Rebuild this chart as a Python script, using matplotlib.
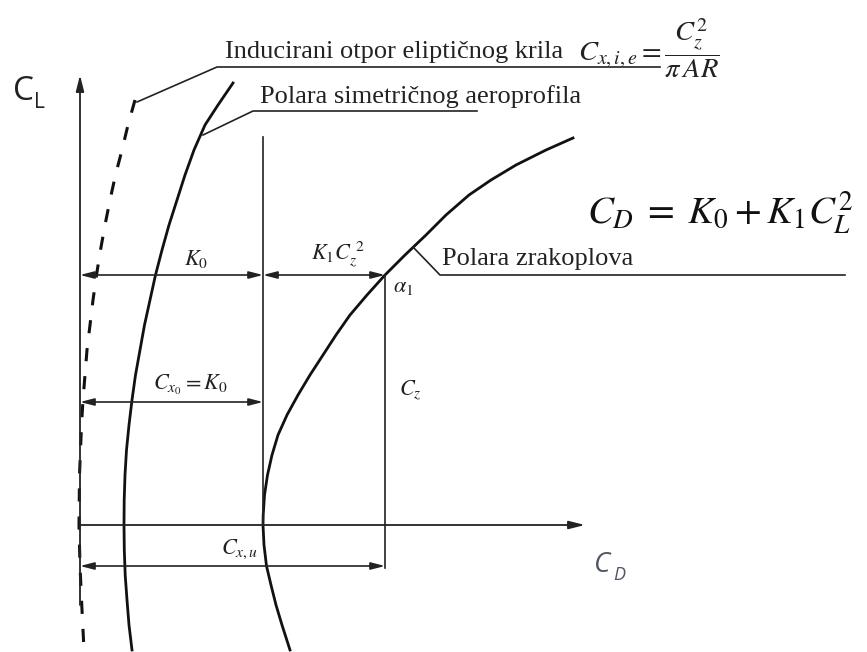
import numpy as np
import matplotlib.pyplot as plt

plt.rcParams["mathtext.fontset"] = "stix"
plt.rcParams["font.family"] = ["Liberation Serif", "DejaVu Serif"]

# diagram units: C_D to the right, C_L up, origin where the two axes cross
# induced drag of the elliptic wing (dashed)
cl_induced = [4.25, 4.00, 3.75, 3.50, 3.25, 3.00, 2.75, 2.50, 2.25, 2.00, 1.75, 1.50, 1.25, 1.00, 0.75, 0.50, 0.00, -0.41, -0.85, -1.25]
cd_induced = [0.55, 0.48, 0.42, 0.355, 0.30, 0.25, 0.205, 0.165, 0.13, 0.10, 0.07, 0.05, 0.03, 0.015, 0.005, -0.005, -0.01, 0.00, 0.02, 0.04]
# polar of the symmetric airfoil
cl_profile = [4.42, 4.20, 4.00, 3.75, 3.50, 3.25, 3.00, 2.75, 2.50, 2.25, 2.00, 1.75, 1.50, 1.25, 1.00, 0.75, 0.50, 0.25, 0.00, -0.25, -0.50, -0.75, -1.00, -1.25]
cd_profile = [1.53, 1.38, 1.25, 1.14, 1.05, 0.97, 0.89, 0.82, 0.755, 0.70, 0.645, 0.60, 0.555, 0.52, 0.49, 0.465, 0.45, 0.442, 0.44, 0.443, 0.452, 0.47, 0.49, 0.52]
# polar of the aircraft
cl_plane = [3.87, 3.75, 3.60, 3.45, 3.30, 3.10, 2.90, 2.70, 2.50, 2.30, 2.10, 1.90, 1.70, 1.50, 1.30, 1.10, 0.90, 0.70, 0.50, 0.30, 0.10, 0.00, -0.20, -0.41, -0.60, -0.80, -1.00, -1.25]
cd_plane = [4.93, 4.66, 4.36, 4.11, 3.89, 3.66, 3.46, 3.25, 3.05, 2.87, 2.70, 2.56, 2.43, 2.30, 2.18, 2.07, 1.98, 1.92, 1.875, 1.845, 1.832, 1.83, 1.84, 1.865, 1.91, 1.96, 2.02, 2.10]

K0 = 1.83                 # C_x0 = K0
cd_1, cl_1 = 3.05, 2.50   # point alpha_1
cl_k0_line = 1.23         # height of the C_x0 = K0 dimension
cl_cxu_line = -0.41       # height of the C_x,u dimension
cl_k0_top = 3.88
cd_axis_end, cl_axis_top, cl_axis_bottom = 5.05, 4.50, -0.80

line_c = "#222222"
thin = dict(color=line_c, lw=1.2)
note_size = 19

fig = plt.figure(figsize=(8.67, 6.52), dpi=100)
ax = fig.add_axes([0, 0, 1, 1])
ax.set_xlim(-0.80, 7.87)
ax.set_ylim(-1.27, 5.25)
ax.axis("off")

# axes
ax.annotate("", xy=(0, cl_axis_top), xytext=(0, cl_axis_bottom),
            arrowprops=dict(arrowstyle="-|>,head_length=0.8,head_width=0.2", mutation_scale=12,
                            color=line_c, lw=1.3, shrinkA=0, shrinkB=0))
ax.annotate("", xy=(cd_axis_end, 0), xytext=(0, 0),
            arrowprops=dict(arrowstyle="-|>,head_length=0.8,head_width=0.2", mutation_scale=12,
                            color=line_c, lw=1.3, shrinkA=0, shrinkB=0))

# curves
ax.plot(cd_induced, cl_induced, color="#111111", lw=2.2, linestyle=(0, (4.3, 4.9)))
ax.plot(cd_profile, cl_profile, color="#111111", lw=2.0)
ax.plot(cd_plane, cl_plane, color="#111111", lw=2.0)

# construction lines
ax.plot([K0, K0], [0, cl_k0_top], **thin)
ax.plot([cd_1, cd_1], [cl_cxu_line - 0.02, cl_1], **thin)


def dim(x0, x1, y):
    ax.annotate("", xy=(x1, y), xytext=(x0, y),
                arrowprops=dict(arrowstyle="<|-|>,head_length=0.7,head_width=0.18", mutation_scale=12,
                                color=line_c, lw=1.2, shrinkA=0, shrinkB=0))


dim(0, K0, cl_1)
dim(K0, cd_1, cl_1)
dim(0, K0, cl_k0_line)
dim(0, cd_1, cl_cxu_line)

# dimension labels
ax.text(1.16, cl_1 + 0.05, r"$K_0$", fontsize=16, ha="center", va="bottom", color=line_c)
ax.text(2.58, cl_1 + 0.05, r"$K_1C_z^{\ 2}$", fontsize=16, ha="center", va="bottom", color=line_c)
ax.text(cd_1 + 0.08, cl_1 - 0.03, r"$\alpha_1$", fontsize=16, ha="left", va="top", color=line_c)
ax.text(1.10, cl_k0_line + 0.05, r"$C_{x_0} = K_0$", fontsize=16, ha="center", va="bottom", color=line_c)
ax.text(cd_1 + 0.14, 1.35, r"$C_z$", fontsize=16, ha="left", va="center", color=line_c)
ax.text(1.60, cl_cxu_line + 0.05, r"$C_{x,u}$", fontsize=16, ha="center", va="bottom", color=line_c)

# leaders and notes
ax.plot([0.57, 1.37, 5.80], [4.23, 4.58, 4.58], **thin)
ax.text(1.45, 4.62, "Inducirani otpor eliptičnog krila", fontsize=note_size, ha="left", va="bottom", color=line_c)
ax.text(4.98, 4.77, r"$C_{x,i,e} = \dfrac{C_z^2}{\pi\, AR}$", fontsize=20.5, ha="left", va="center", color=line_c)

ax.plot([1.23, 1.73, 3.97], [3.90, 4.14, 4.14], **thin)
ax.text(1.80, 4.17, "Polara simetričnog aeroprofila", fontsize=note_size, ha="left", va="bottom", color=line_c)

ax.plot([3.33, 3.60, 7.65], [2.78, cl_1, cl_1], **thin)
ax.text(3.62, cl_1 + 0.05, "Polara zrakoplova", fontsize=note_size, ha="left", va="bottom", color=line_c)

ax.text(6.40, 3.12, r"$C_D\; =\; K_0 + K_1C_L^2$", fontsize=28, ha="center", va="center", color="#111111")

# axis names
ax.text(-0.67, 4.33, "C", fontsize=24, family="Open Sans", ha="left", va="center", color="#222222")
ax.text(-0.46, 4.22, "L", fontsize=15, family="Open Sans", ha="left", va="center", color="#222222")
ax.text(5.14, -0.40, "C", fontsize=20, family="Open Sans", style="italic", ha="left", va="center", color="#4f5666")
ax.text(5.33, -0.50, "D", fontsize=13, family="Open Sans", style="italic", ha="left", va="center", color="#4f5666")

fig.savefig("out.png", dpi=100)
